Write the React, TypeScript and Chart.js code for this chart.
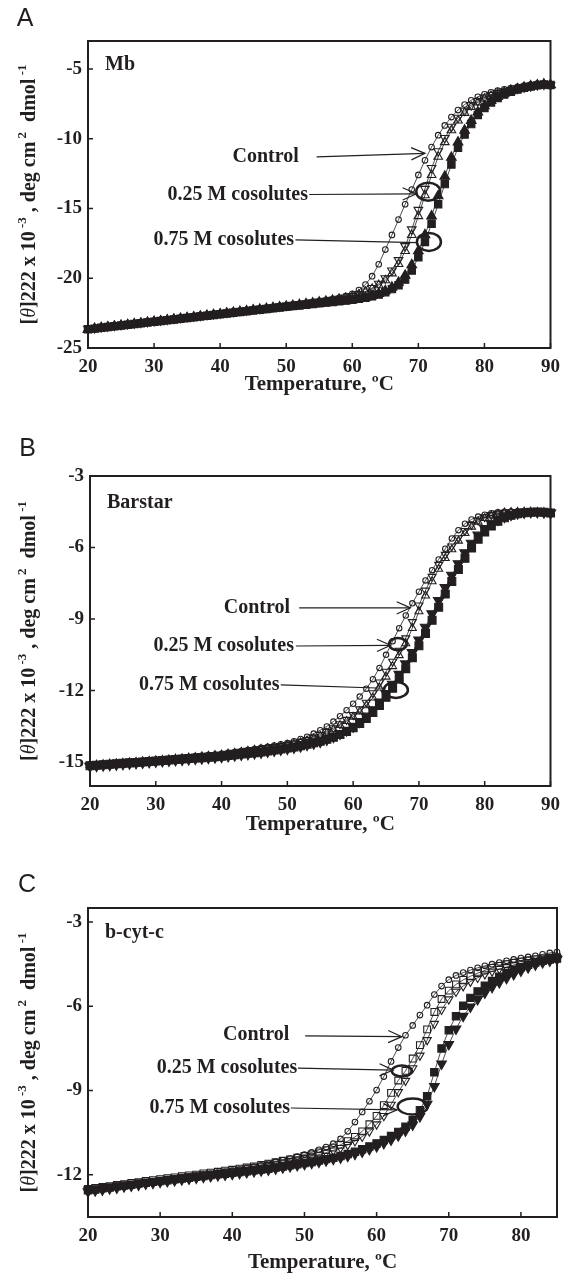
import React, { useEffect, useRef } from 'react';
import { Chart, registerables } from 'chart.js';

Chart.register(...registerables);

const SERIF = "'Liberation Serif', 'Times New Roman', Times, serif";
const SANS = "'Liberation Sans', Arial, Helvetica, sans-serif";
const INK = '#231f20';

// ---------------- data ----------------
const tempAB = [20,21,22,23,24,25,26,27,28,29,30,31,32,33,34,35,36,37,38,39,40,41,42,43,44,45,46,47,48,49,50,51,52,53,54,55,56,57,58,59,60,61,62,63,64,65,66,67,68,69,70,71,72,73,74,75,76,77,78,79,80,81,82,83,84,85,86,87,88,89,90];
const tempC = [20,21,22,23,24,25,26,27,28,29,30,31,32,33,34,35,36,37,38,39,40,41,42,43,44,45,46,47,48,49,50,51,52,53,54,55,56,57,58,59,60,61,62,63,64,65,66,67,68,69,70,71,72,73,74,75,76,77,78,79,80,81,82,83,84,85];

const xTicksAB = [20, 30, 40, 50, 60, 70, 80, 90];
const xTicksC = [20, 30, 40, 50, 60, 70, 80];
const yTicksA = [-25, -20, -15, -10, -5];
const yTicksB = [-15, -12, -9, -6, -3];
const yTicksC = [-12, -9, -6, -3];

// Panel A: Mb
const ctrlA = [-23.6,-23.55,-23.49,-23.44,-23.38,-23.33,-23.27,-23.22,-23.16,-23.11,
 -23.05,-23.0,-22.94,-22.88,-22.83,-22.77,-22.72,-22.66,-22.61,-22.55,
 -22.5,-22.44,-22.39,-22.33,-22.28,-22.22,-22.17,-22.11,-22.06,-22.0,
 -21.95,-21.89,-21.83,-21.77,-21.71,-21.64,-21.57,-21.49,-21.4,-21.28,
 -21.12,-20.85,-20.45,-19.85,-19.0,-17.95,-16.9,-15.8,-14.7,-13.65,
 -12.6,-11.55,-10.6,-9.75,-9.05,-8.45,-7.95,-7.55,-7.25,-7.0,
 -6.82,-6.68,-6.56,-6.46,-6.37,-6.28,-6.2,-6.12,-6.06,-6.05,-6.1];
const s25aA = [-23.62,-23.57,-23.51,-23.46,-23.4,-23.35,-23.29,-23.24,-23.18,-23.13,
 -23.07,-23.02,-22.96,-22.9,-22.85,-22.79,-22.74,-22.68,-22.63,-22.57,
 -22.52,-22.46,-22.41,-22.35,-22.3,-22.24,-22.19,-22.13,-22.08,-22.02,
 -21.97,-21.91,-21.85,-21.79,-21.73,-21.67,-21.61,-21.54,-21.47,-21.38,
 -21.27,-21.13,-20.95,-20.7,-20.4,-20.0,-19.45,-18.7,-17.7,-16.5,
 -15.1,-13.6,-12.1,-10.9,-9.95,-9.15,-8.5,-8.0,-7.6,-7.3,
 -7.05,-6.86,-6.72,-6.6,-6.5,-6.41,-6.32,-6.24,-6.16,-6.12,-6.15];
const s25bA = [-23.63,-23.58,-23.52,-23.47,-23.41,-23.36,-23.3,-23.25,-23.19,-23.14,
 -23.08,-23.03,-22.97,-22.91,-22.86,-22.8,-22.75,-22.69,-22.64,-22.58,
 -22.53,-22.47,-22.42,-22.36,-22.31,-22.25,-22.2,-22.14,-22.09,-22.03,
 -21.98,-21.92,-21.86,-21.8,-21.74,-21.68,-21.62,-21.55,-21.48,-21.4,
 -21.3,-21.16,-20.98,-20.76,-20.5,-20.15,-19.65,-18.98,-18.05,-16.9,
 -15.55,-14.05,-12.6,-11.3,-10.25,-9.4,-8.7,-8.15,-7.72,-7.4,
 -7.14,-6.94,-6.78,-6.65,-6.54,-6.44,-6.35,-6.26,-6.18,-6.13,-6.15];
const s75aA = [-23.66,-23.61,-23.55,-23.5,-23.44,-23.39,-23.34,-23.28,-23.23,-23.17,
 -23.12,-23.07,-23.01,-22.96,-22.9,-22.85,-22.8,-22.74,-22.69,-22.63,
 -22.58,-22.53,-22.47,-22.42,-22.37,-22.31,-22.26,-22.21,-22.15,-22.1,
 -22.05,-22.0,-21.95,-21.9,-21.85,-21.8,-21.75,-21.7,-21.65,-21.6,
 -21.55,-21.48,-21.4,-21.3,-21.17,-21.0,-20.78,-20.5,-20.1,-19.45,
 -18.5,-17.4,-16.1,-14.7,-13.25,-11.85,-10.65,-9.7,-8.95,-8.3,
 -7.8,-7.4,-7.08,-6.83,-6.63,-6.48,-6.36,-6.26,-6.18,-6.12,-6.15];
const s75bA = [-23.68,-23.63,-23.57,-23.52,-23.46,-23.41,-23.36,-23.3,-23.25,-23.19,
 -23.14,-23.09,-23.03,-22.98,-22.92,-22.87,-22.82,-22.76,-22.71,-22.65,
 -22.6,-22.55,-22.49,-22.44,-22.39,-22.33,-22.28,-22.23,-22.17,-22.12,
 -22.07,-22.02,-21.97,-21.92,-21.87,-21.82,-21.77,-21.72,-21.67,-21.62,
 -21.56,-21.47,-21.37,-21.25,-21.1,-20.9,-20.65,-20.3,-19.8,-19.05,
 -18.05,-16.9,-15.55,-14.1,-12.7,-11.35,-10.25,-9.4,-8.7,-8.1,
 -7.65,-7.28,-6.98,-6.75,-6.57,-6.43,-6.32,-6.23,-6.16,-6.1,-6.14];

// Panel B: Barstar
const ctrlB = [-15.1,-15.08,-15.06,-15.04,-15.02,-15.0,-14.98,-14.96,-14.94,-14.92,
 -14.9,-14.88,-14.86,-14.83,-14.8,-14.78,-14.75,-14.73,-14.7,-14.68,
 -14.65,-14.61,-14.57,-14.53,-14.49,-14.45,-14.4,-14.35,-14.3,-14.25,
 -14.2,-14.12,-14.03,-13.93,-13.8,-13.66,-13.5,-13.3,-13.07,-12.82,
 -12.55,-12.25,-11.92,-11.52,-11.05,-10.5,-9.93,-9.38,-8.85,-8.34,
 -7.85,-7.38,-6.95,-6.5,-6.05,-5.62,-5.27,-5.0,-4.82,-4.7,
 -4.62,-4.56,-4.52,-4.5,-4.49,-4.48,-4.48,-4.49,-4.5,-4.52,-4.53];
const s25aB = [-15.12,-15.1,-15.08,-15.06,-15.04,-15.02,-15.0,-14.98,-14.96,-14.94,
 -14.92,-14.9,-14.88,-14.85,-14.83,-14.8,-14.78,-14.75,-14.73,-14.7,
 -14.68,-14.64,-14.6,-14.56,-14.52,-14.48,-14.44,-14.4,-14.36,-14.32,
 -14.27,-14.21,-14.14,-14.06,-13.96,-13.85,-13.72,-13.57,-13.4,-13.22,
 -13.02,-12.78,-12.5,-12.1,-11.65,-11.2,-10.78,-10.32,-9.8,-9.12,
 -8.42,-7.8,-7.22,-6.72,-6.3,-5.95,-5.6,-5.3,-5.05,-4.86,
 -4.72,-4.63,-4.57,-4.53,-4.51,-4.5,-4.5,-4.5,-4.51,-4.52,-4.54];
const s25bB = [-15.13,-15.11,-15.09,-15.07,-15.05,-15.03,-15.01,-14.99,-14.97,-14.95,
 -14.93,-14.91,-14.89,-14.86,-14.84,-14.81,-14.79,-14.76,-14.74,-14.71,
 -14.69,-14.65,-14.61,-14.57,-14.53,-14.49,-14.45,-14.41,-14.37,-14.33,
 -14.28,-14.23,-14.17,-14.1,-14.01,-13.9,-13.78,-13.63,-13.45,-13.28,
 -13.1,-12.88,-12.62,-12.3,-11.88,-11.42,-10.98,-10.52,-10.02,-9.38,
 -8.68,-8.02,-7.42,-6.9,-6.45,-6.08,-5.72,-5.4,-5.13,-4.92,
 -4.77,-4.66,-4.59,-4.54,-4.52,-4.51,-4.5,-4.5,-4.51,-4.52,-4.54];
const s75aB = [-15.15,-15.13,-15.11,-15.09,-15.07,-15.05,-15.03,-15.01,-14.99,-14.97,
 -14.95,-14.93,-14.91,-14.89,-14.87,-14.85,-14.83,-14.81,-14.79,-14.77,
 -14.75,-14.72,-14.69,-14.66,-14.63,-14.6,-14.57,-14.53,-14.49,-14.45,
 -14.41,-14.36,-14.31,-14.25,-14.19,-14.12,-14.04,-13.95,-13.84,-13.71,
 -13.56,-13.38,-13.17,-12.92,-12.62,-12.28,-11.9,-11.5,-11.08,-10.62,
 -10.12,-9.6,-9.05,-8.5,-7.95,-7.42,-6.92,-6.45,-6.02,-5.65,
 -5.35,-5.1,-4.9,-4.75,-4.65,-4.58,-4.54,-4.52,-4.51,-4.52,-4.55];
const s75bB = [-15.17,-15.15,-15.13,-15.11,-15.09,-15.07,-15.05,-15.03,-15.01,-14.99,
 -14.97,-14.95,-14.93,-14.91,-14.89,-14.87,-14.85,-14.83,-14.81,-14.79,
 -14.77,-14.74,-14.71,-14.68,-14.65,-14.62,-14.59,-14.55,-14.51,-14.47,
 -14.43,-14.38,-14.33,-14.27,-14.21,-14.14,-14.05,-13.93,-13.8,-13.66,
 -13.5,-13.3,-13.07,-12.8,-12.48,-12.12,-11.73,-11.32,-10.88,-10.4,
 -9.88,-9.34,-8.78,-8.22,-7.68,-7.16,-6.68,-6.22,-5.82,-5.48,
 -5.2,-4.98,-4.82,-4.7,-4.62,-4.56,-4.53,-4.51,-4.51,-4.52,-4.55];

// Panel C: b-cyt-c
const ctrlC = [-12.57,-12.53,-12.5,-12.46,-12.42,-12.38,-12.35,-12.31,-12.27,-12.24,
 -12.2,-12.17,-12.13,-12.1,-12.06,-12.03,-11.99,-11.96,-11.92,-11.89,
 -11.85,-11.81,-11.76,-11.71,-11.66,-11.6,-11.54,-11.48,-11.42,-11.35,
 -11.28,-11.2,-11.11,-11.01,-10.89,-10.72,-10.45,-10.12,-9.76,-9.38,
 -8.98,-8.5,-7.96,-7.47,-7.03,-6.68,-6.31,-5.96,-5.58,-5.28,
 -5.05,-4.9,-4.8,-4.71,-4.63,-4.56,-4.5,-4.44,-4.38,-4.33,
 -4.28,-4.24,-4.2,-4.15,-4.1,-4.07];
const s25aC = [-12.5,-12.47,-12.43,-12.4,-12.36,-12.33,-12.29,-12.26,-12.22,-12.19,
 -12.15,-12.12,-12.09,-12.05,-12.02,-11.99,-11.95,-11.92,-11.89,-11.85,
 -11.82,-11.78,-11.74,-11.7,-11.65,-11.6,-11.55,-11.5,-11.45,-11.39,
 -11.33,-11.27,-11.2,-11.12,-11.03,-10.93,-10.8,-10.65,-10.45,-10.2,
 -9.9,-9.52,-9.08,-8.64,-8.3,-7.86,-7.38,-6.82,-6.2,-5.74,
 -5.44,-5.22,-5.06,-4.93,-4.82,-4.72,-4.63,-4.56,-4.5,-4.45,
 -4.41,-4.37,-4.33,-4.3,-4.27,-4.25];
const s25bC = [-12.53,-12.5,-12.46,-12.43,-12.39,-12.36,-12.32,-12.29,-12.25,-12.22,
 -12.18,-12.15,-12.12,-12.08,-12.05,-12.02,-11.98,-11.95,-11.92,-11.88,
 -11.85,-11.81,-11.77,-11.73,-11.69,-11.65,-11.6,-11.55,-11.5,-11.45,
 -11.4,-11.34,-11.28,-11.21,-11.13,-11.04,-10.93,-10.8,-10.64,-10.45,
 -10.2,-9.9,-9.5,-9.05,-8.65,-8.2,-7.75,-7.2,-6.62,-6.12,
 -5.75,-5.48,-5.28,-5.12,-4.98,-4.86,-4.76,-4.67,-4.6,-4.53,
 -4.47,-4.42,-4.38,-4.34,-4.3,-4.28];
const s75aC = [-12.55,-12.52,-12.48,-12.45,-12.41,-12.38,-12.35,-12.31,-12.28,-12.25,
 -12.22,-12.19,-12.16,-12.13,-12.1,-12.07,-12.04,-12.01,-11.98,-11.96,
 -11.93,-11.9,-11.87,-11.84,-11.81,-11.78,-11.74,-11.7,-11.66,-11.62,
 -11.58,-11.54,-11.49,-11.44,-11.39,-11.33,-11.26,-11.18,-11.09,-10.99,
 -10.88,-10.76,-10.62,-10.47,-10.29,-10.05,-9.7,-9.2,-8.35,-7.5,
 -6.85,-6.35,-5.98,-5.7,-5.47,-5.27,-5.1,-4.95,-4.82,-4.71,
 -4.61,-4.52,-4.44,-4.38,-4.33,-4.3];
const s75bC = [-12.6,-12.56,-12.53,-12.49,-12.46,-12.42,-12.39,-12.36,-12.32,-12.29,
 -12.26,-12.23,-12.2,-12.17,-12.14,-12.11,-12.08,-12.05,-12.02,-12.0,
 -11.97,-11.94,-11.91,-11.88,-11.85,-11.82,-11.78,-11.74,-11.7,-11.66,
 -11.62,-11.58,-11.54,-11.49,-11.44,-11.39,-11.33,-11.26,-11.18,-11.09,
 -10.99,-10.88,-10.75,-10.6,-10.43,-10.22,-9.92,-9.48,-8.85,-8.05,
 -7.35,-6.8,-6.35,-6.02,-5.75,-5.52,-5.32,-5.15,-5.0,-4.86,
 -4.74,-4.62,-4.52,-4.44,-4.38,-4.33];

// ---------------- annotations (data coordinates) ----------------
type Ann = { label: string; tx: number; ty: number; x1: number; y1: number; x2: number; y2: number; head: boolean; ex?: number; ey?: number; erx?: number; ery?: number };

const annA: Ann[] = [
  { label: 'Control', tx: 51.9, ty: -11.3, x1: 54.6, y1: -11.3, x2: 71.0, y2: -11.05, head: true },
  { label: '0.25 M cosolutes', tx: 53.3, ty: -14.0, x1: 53.5, y1: -14.0, x2: 69.7, y2: -13.95, head: true, ex: 71.5, ey: -13.8, erx: 12, ery: 9 },
  { label: '0.75 M cosolutes', tx: 51.2, ty: -17.25, x1: 51.4, y1: -17.25, x2: 69.8, y2: -17.45, head: false, ex: 71.6, ey: -17.4, erx: 12, ery: 9 },
];
const annB: Ann[] = [
  { label: 'Control', tx: 50.4, ty: -8.53, x1: 51.8, y1: -8.53, x2: 68.7, y2: -8.53, head: true },
  { label: '0.25 M cosolutes', tx: 51.0, ty: -10.13, x1: 51.3, y1: -10.13, x2: 65.7, y2: -10.1, head: true, ex: 66.8, ey: -10.05, erx: 9, ery: 6 },
  { label: '0.75 M cosolutes', tx: 48.8, ty: -11.76, x1: 49.0, y1: -11.76, x2: 64.7, y2: -11.9, head: false, ex: 66.5, ey: -11.97, erx: 12, ery: 8 },
];
const annC: Ann[] = [
  { label: 'Control', tx: 47.9, ty: -7.02, x1: 50.1, y1: -7.05, x2: 63.5, y2: -7.08, head: true },
  { label: '0.25 M cosolutes', tx: 49.0, ty: -8.2, x1: 49.1, y1: -8.2, x2: 62.3, y2: -8.27, head: true, ex: 63.5, ey: -8.3, erx: 10, ery: 5.5 },
  { label: '0.75 M cosolutes', tx: 48.0, ty: -9.62, x1: 48.1, y1: -9.62, x2: 62.8, y2: -9.69, head: true, ex: 65.0, ey: -9.57, erx: 15, ery: 8 },
];

// ---------------- styles ----------------
type SeriesCfg = { name: string; y: number[]; style: string; rot: number; r: number; filled: boolean };

const seriesA: SeriesCfg[] = [
  { name: 'Control', y: ctrlA, style: 'circle', rot: 0, r: 2.8, filled: false },
  { name: '0.25 M a', y: s25aA, style: 'triangle', rot: 180, r: 5, filled: false },
  { name: '0.25 M b', y: s25bA, style: 'triangle', rot: 0, r: 5, filled: false },
  { name: '0.75 M a', y: s75aA, style: 'rect', rot: 0, r: 5.2, filled: true },
  { name: '0.75 M b', y: s75bA, style: 'triangle', rot: 0, r: 5.6, filled: true },
];
const seriesB: SeriesCfg[] = [
  { name: 'Control', y: ctrlB, style: 'circle', rot: 0, r: 2.7, filled: false },
  { name: '0.25 M a', y: s25aB, style: 'triangle', rot: 180, r: 4.6, filled: false },
  { name: '0.25 M b', y: s25bB, style: 'triangle', rot: 0, r: 4.6, filled: false },
  { name: '0.75 M a', y: s75aB, style: 'rect', rot: 0, r: 5.6, filled: true },
  { name: '0.75 M b', y: s75bB, style: 'triangle', rot: 180, r: 6, filled: true },
];
const seriesC: SeriesCfg[] = [
  { name: 'Control', y: ctrlC, style: 'circle', rot: 0, r: 2.8, filled: false },
  { name: '0.25 M a', y: s25aC, style: 'rect', rot: 0, r: 4.8, filled: false },
  { name: '0.25 M b', y: s25bC, style: 'triangle', rot: 180, r: 4.8, filled: false },
  { name: '0.75 M a', y: s75aC, style: 'rect', rot: 0, r: 5.2, filled: true },
  { name: '0.75 M b', y: s75bC, style: 'triangle', rot: 180, r: 5.6, filled: true },
];

type PanelCfg = {
  top: number; height: number;
  area: { top: number; bottom: number; left: number; right: number };
  xmin: number; xmax: number; ymin: number; ymax: number;
  xTicks: number[]; yTicks: number[]; temps: number[]; series: SeriesCfg[];
  letter: string; letterX: number; letterY: number; name: string; nameDy: number; titleDy: number; ann: Ann[];
};

const panels: PanelCfg[] = [
  { top: 0, height: 420, area: { top: 41, bottom: 348, left: 88, right: 557 }, xmin: 20, xmax: 90, ymin: -25, ymax: -3,
    xTicks: xTicksAB, yTicks: yTicksA, temps: tempAB, series: seriesA, letter: 'A', letterX: 25, letterY: 19.5, name: 'Mb', nameDy: 24, titleDy: 37, ann: annA },
  { top: 420, height: 420, area: { top: 56, bottom: 366, left: 90, right: 557 }, xmin: 20, xmax: 90, ymin: -16, ymax: -3,
    xTicks: xTicksAB, yTicks: yTicksB, temps: tempAB, series: seriesB, letter: 'B', letterX: 27.5, letterY: 29, name: 'Barstar', nameDy: 27, titleDy: 39, ann: annB },
  { top: 840, height: 440, area: { top: 68, bottom: 377, left: 88, right: 557 }, xmin: 20, xmax: 85, ymin: -13.5, ymax: -2.5,
    xTicks: xTicksC, yTicks: yTicksC, temps: tempC, series: seriesC, letter: 'C', letterX: 27, letterY: 45, name: 'b-cyt-c', nameDy: 25, titleDy: 46, ann: annC },
];

function drawYTitle(ctx: CanvasRenderingContext2D, cx: number, cy: number) {
  const B = `bold 20px ${SERIF}`;
  const I = `italic 20px ${SERIF}`;
  const S = `bold 13px ${SERIF}`;
  const segs = [
    { t: '[', f: B, dy: 0 }, { t: 'θ', f: I, dy: 0 }, { t: ']222 x 10', f: B, dy: 0 },
    { t: ' -3', f: S, dy: -9 }, { t: ' , deg cm', f: B, dy: 0 }, { t: ' 2', f: S, dy: -9 },
    { t: '  dmol', f: B, dy: 0 }, { t: ' -1', f: S, dy: -9 },
  ];
  let w = 0;
  for (const s of segs) { ctx.font = s.f; w += ctx.measureText(s.t).width; }
  ctx.save();
  ctx.translate(cx, cy);
  ctx.rotate(-Math.PI / 2);
  ctx.textAlign = 'left';
  ctx.textBaseline = 'alphabetic';
  let x = -w / 2;
  for (const s of segs) {
    ctx.font = s.f;
    ctx.fillText(s.t, x, 7 + s.dy);
    x += ctx.measureText(s.t).width;
  }
  ctx.restore();
}

function makeDecor(p: PanelCfg) {
  return {
    id: 'decor',
    afterDraw(chart: any) {
      const ctx: CanvasRenderingContext2D = chart.ctx;
      const a = chart.chartArea;
      const xs = chart.scales.x;
      const ys = chart.scales.y;
      ctx.save();
      ctx.strokeStyle = INK;
      ctx.fillStyle = INK;
      // inward tick marks
      ctx.lineWidth = 1.5;
      ctx.beginPath();
      for (const v of p.xTicks) {
        const px = xs.getPixelForValue(v);
        ctx.moveTo(px, a.bottom);
        ctx.lineTo(px, a.bottom - 5);
      }
      for (const v of p.yTicks) {
        const py = ys.getPixelForValue(v);
        ctx.moveTo(a.left, py);
        ctx.lineTo(a.left + 5, py);
      }
      ctx.stroke();
      // frame
      ctx.lineWidth = 2;
      ctx.strokeRect(a.left, a.top, a.right - a.left, a.bottom - a.top);
      // panel letter
      ctx.font = `25px ${SANS}`;
      ctx.textAlign = 'center';
      ctx.textBaseline = 'middle';
      ctx.fillText(p.letter, p.letterX, p.letterY);
      // protein name
      ctx.font = `bold 20px ${SERIF}`;
      ctx.textAlign = 'left';
      ctx.fillText(p.name, a.left + 17, a.top + p.nameDy);
      // x title
      ctx.font = `bold 21px ${SERIF}`;
      ctx.textAlign = 'center';
      ctx.fillText('Temperature, ºC', (a.left + a.right) / 2, a.bottom + p.titleDy);
      // y title
      drawYTitle(ctx, 28, (a.top + a.bottom) / 2);
      // annotations
      for (const an of p.ann) {
        ctx.font = `bold 20px ${SERIF}`;
        ctx.textAlign = 'right';
        ctx.textBaseline = 'middle';
        ctx.fillText(an.label, xs.getPixelForValue(an.tx), ys.getPixelForValue(an.ty));
        const x1 = xs.getPixelForValue(an.x1), y1 = ys.getPixelForValue(an.y1);
        const x2 = xs.getPixelForValue(an.x2), y2 = ys.getPixelForValue(an.y2);
        ctx.lineWidth = 1.2;
        ctx.beginPath();
        ctx.moveTo(x1, y1);
        ctx.lineTo(x2, y2);
        ctx.stroke();
        if (an.head) {
          const ang = Math.atan2(y2 - y1, x2 - x1);
          const L = 15, sp = 0.42;
          ctx.beginPath();
          ctx.moveTo(x2 - L * Math.cos(ang - sp), y2 - L * Math.sin(ang - sp));
          ctx.lineTo(x2, y2);
          ctx.lineTo(x2 - L * Math.cos(ang + sp), y2 - L * Math.sin(ang + sp));
          ctx.stroke();
        }
        if (an.ex !== undefined) {
          ctx.lineWidth = 2.5;
          ctx.beginPath();
          ctx.ellipse(xs.getPixelForValue(an.ex), ys.getPixelForValue(an.ey as number), an.erx as number, an.ery as number, 0, 0, Math.PI * 2);
          ctx.stroke();
        }
      }
      ctx.restore();
    },
  };
}

function Panel({ cfg }: { cfg: PanelCfg }) {
  const ref = useRef<HTMLCanvasElement>(null);
  useEffect(() => {
    const canvas = ref.current;
    if (!canvas) return;
    const tickFont = { family: SERIF, size: 19, weight: 'bold' as const };
    const chart = new Chart(canvas, {
      type: 'scatter',
      data: {
        datasets: cfg.series.map((s) => ({
          label: s.name,
          data: cfg.temps.map((t, i) => ({ x: t, y: s.y[i] })),
          showLine: true,
          borderColor: INK,
          borderWidth: 0.8,
          pointStyle: s.style as any,
          pointRotation: s.rot,
          pointRadius: s.r,
          pointBorderWidth: 1.1,
          pointBorderColor: INK,
          pointBackgroundColor: s.filled ? INK : 'rgba(0,0,0,0)',
          clip: false as any,
        })),
      },
      options: {
        animation: false,
        responsive: false,
        devicePixelRatio: 1,
        events: [],
        layout: { padding: { top: cfg.area.top, right: 568 - cfg.area.right, left: 0, bottom: 0 } },
        plugins: { legend: { display: false }, tooltip: { enabled: false } },
        scales: {
          x: {
            type: 'linear', min: cfg.xmin, max: cfg.xmax,
            grid: { display: false, drawTicks: false },
            border: { display: false },
            afterFit: (s: any) => { s.height = cfg.height - cfg.area.bottom; },
            afterBuildTicks: (s: any) => { s.ticks = cfg.xTicks.map((v) => ({ value: v })); },
            ticks: { font: tickFont, color: INK, padding: 8, maxRotation: 0, autoSkip: false, callback: (v: any) => String(v) },
          },
          y: {
            type: 'linear', min: cfg.ymin, max: cfg.ymax,
            grid: { display: false, drawTicks: false },
            border: { display: false },
            afterFit: (s: any) => { s.width = cfg.area.left; },
            afterBuildTicks: (s: any) => { s.ticks = cfg.yTicks.map((v) => ({ value: v })); },
            ticks: { font: tickFont, color: INK, padding: 6, autoSkip: false, callback: (v: any) => String(v) },
          },
        },
      } as any,
      plugins: [makeDecor(cfg)],
    });
    return () => chart.destroy();
  }, [cfg]);
  return (
    <canvas
      ref={ref}
      width={568}
      height={cfg.height}
      style={{ position: 'absolute', left: 0, top: cfg.top, width: 568, height: cfg.height }}
    />
  );
}

export default function App() {
  return (
    <div style={{ position: 'absolute', left: 0, top: 0, width: 568, height: 1280, background: '#ffffff' }}>
      {panels.map((p, i) => (
        <Panel key={i} cfg={p} />
      ))}
    </div>
  );
}
